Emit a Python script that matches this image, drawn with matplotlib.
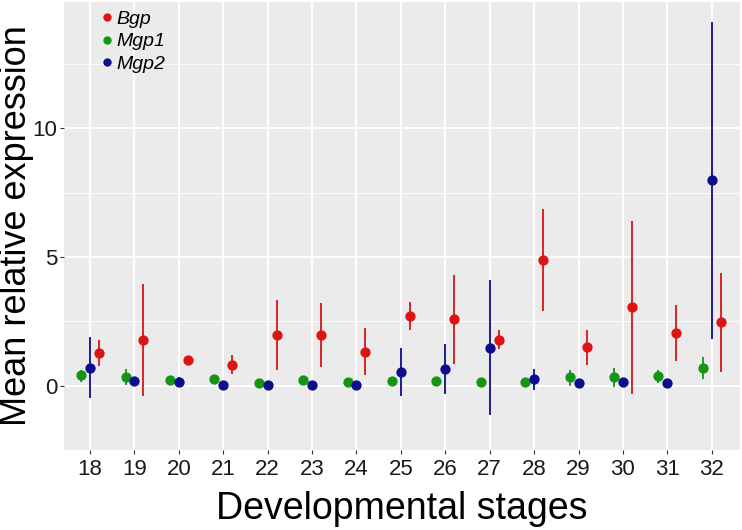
import matplotlib
matplotlib.use('Agg')
import matplotlib.pyplot as plt
from matplotlib.lines import Line2D
import numpy as np

stages = [18, 19, 20, 21, 22, 23, 24, 25, 26, 27, 28, 29, 30, 31, 32]

bgp_mean = [1.26, 1.76, 0.99, 0.82, 1.96, 1.96, 1.32, 2.71, 2.59, 1.79, 4.87, 1.49, 3.04, 2.04, 2.46]
bgp_low = [0.75, -0.40, 0.99, 0.44, 0.60, 0.72, 0.41, 2.16, 0.85, 1.41, 2.89, 0.82, -0.34, 0.94, 0.51]
bgp_high = [1.79, 3.94, 0.99, 1.20, 3.32, 3.21, 2.25, 3.26, 4.31, 2.16, 6.85, 2.15, 6.41, 3.14, 4.39]

mgp1_mean = [0.40, 0.35, 0.20, 0.26, 0.12, 0.21, 0.14, 0.19, 0.18, 0.14, 0.16, 0.32, 0.32, 0.36, 0.69]
mgp1_low = [0.16, 0.02, 0.20, 0.26, 0.12, 0.21, 0.14, 0.19, 0.18, 0.14, 0.16, 0.00, -0.06, 0.10, 0.25]
mgp1_high = [0.62, 0.65, 0.20, 0.26, 0.12, 0.21, 0.14, 0.19, 0.18, 0.14, 0.16, 0.62, 0.70, 0.60, 1.10]

mgp2_mean = [0.70, 0.17, 0.15, 0.04, 0.04, 0.04, 0.04, 0.54, 0.65, 1.47, 0.25, 0.10, 0.14, 0.09, 7.97]
mgp2_low = [-0.49, 0.17, -0.05, 0.04, 0.04, 0.04, 0.04, -0.40, -0.34, -1.15, -0.16, 0.10, 0.14, 0.09, 1.82]
mgp2_high = [1.87, 0.17, 0.35, 0.04, 0.04, 0.04, 0.04, 1.47, 1.62, 4.10, 0.66, 0.10, 0.14, 0.09, 14.12]

plt.rcParams['font.family'] = ['Liberation Sans', 'DejaVu Sans']

fig = plt.figure(figsize=(7.42, 5.30), dpi=100)
ax = fig.add_axes([0.0863, 0.151, 0.9107, 0.845])
ax.set_facecolor('#EBEBEB')

x = np.arange(len(stages))
series = [
    ('Bgp', bgp_mean, bgp_low, bgp_high, '#DD1414', 0.2),
    ('Mgp1', mgp1_mean, mgp1_low, mgp1_high, '#149614', -0.2),
    ('Mgp2', mgp2_mean, mgp2_low, mgp2_high, '#0C0C8C', 0.0),
]
handles = []
for name, mean, low, high, color, offset in series:
    mean = np.array(mean)
    yerr = [mean - np.array(low), np.array(high) - mean]
    ax.errorbar(x + offset, mean, yerr=yerr, fmt='o', color=color, ms=6.4,
                elinewidth=1.3, capsize=0, zorder=3)
    handles.append(Line2D([], [], marker='o', ls='none', color=color, ms=5, label=name))

ax.set_xlim(-0.585, len(stages) - 1 + 0.63)
ax.set_ylim(-1.9, 14.9)
ax.set_xticks(x)
ax.set_xticklabels([str(s) for s in stages])
ax.set_yticks([0, 5, 10])
ax.set_yticks([-2.5, 2.5, 7.5, 12.5], minor=True)
ax.grid(True, which='major', color='white', linewidth=1.4)
ax.grid(True, which='minor', axis='y', color='white', linewidth=0.6)
ax.set_axisbelow(True)
for sp in ax.spines.values():
    sp.set_visible(False)
ax.tick_params(axis='both', which='major', labelsize=16, colors='#333333',
               labelcolor='#1a1a1a', length=3, width=0.8)
ax.tick_params(axis='y', which='major', pad=2)
ax.tick_params(axis='y', which='minor', length=0)

ax.set_xlabel('Developmental stages', fontsize=27, va='top')
ax.xaxis.set_label_coords(0.5, -0.092)
ax.set_ylabel('Mean relative expression', fontsize=26)
ax.yaxis.set_label_coords(-0.0445, 0.5)

ax.legend(handles=handles, loc='upper left', bbox_to_anchor=(0.030, 1.012), frameon=False,
          prop={'style': 'italic', 'size': 14}, handletextpad=0.05,
          labelspacing=0.25, handlelength=0.9, borderpad=0.2)

fig.savefig('out.png', dpi=100)
